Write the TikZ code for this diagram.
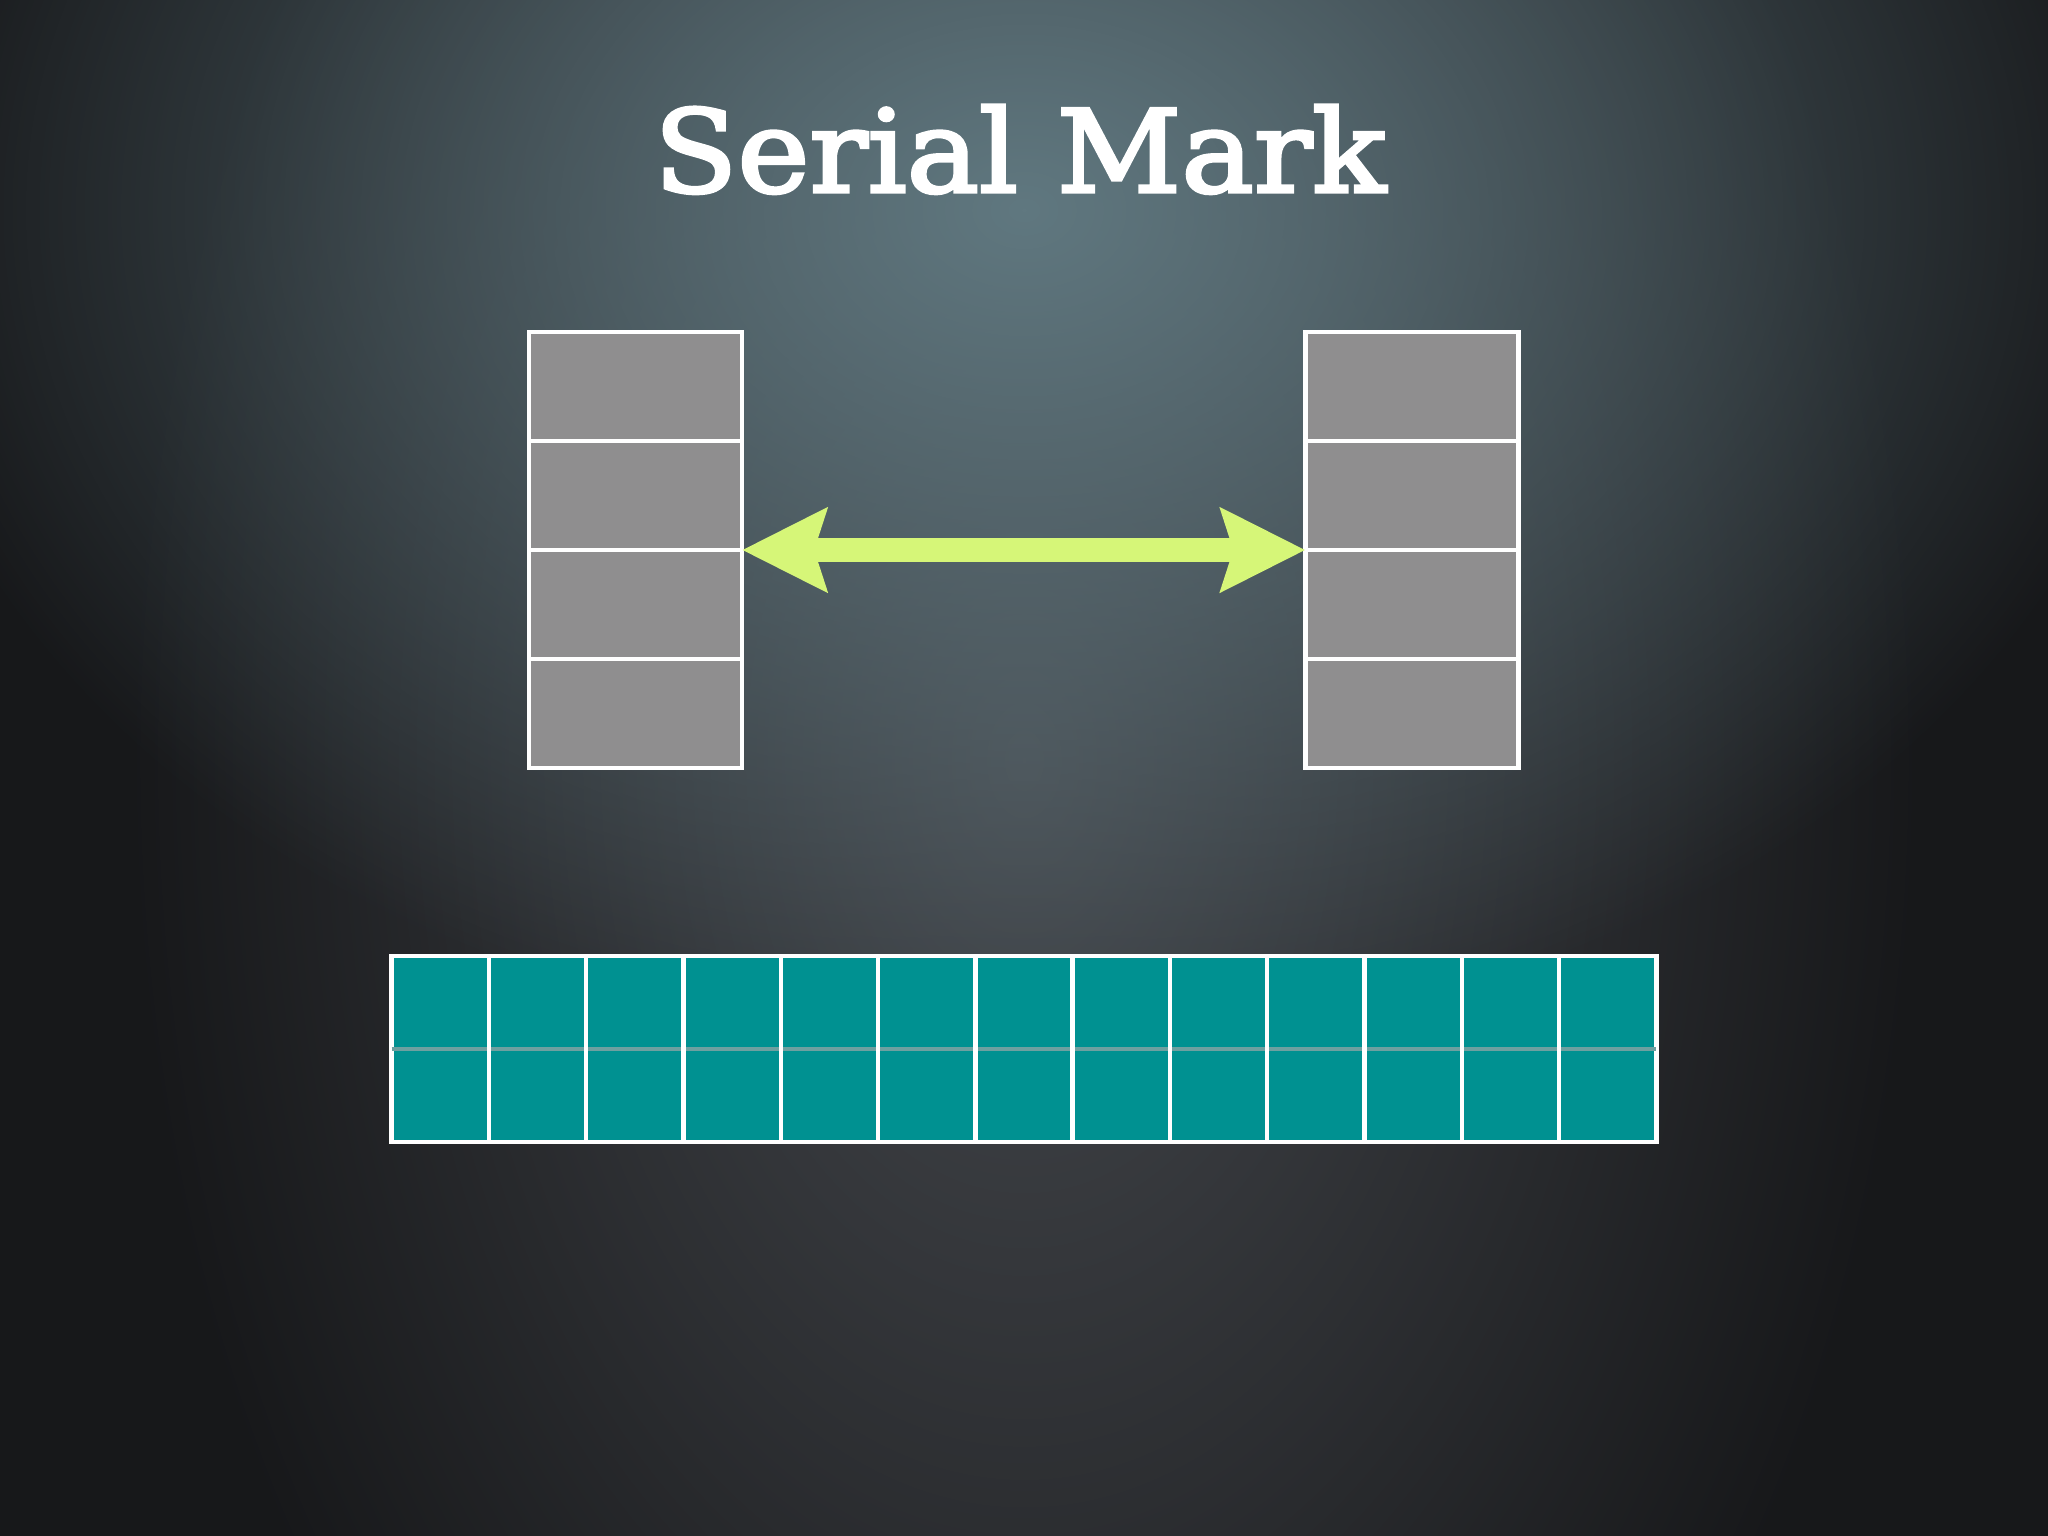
\documentclass[tikz,border=0pt]{standalone}
\usepackage{fontspec}
\newfontfamily\titlefont[FakeBold=3, FakeStretch=1.065]{DejaVu Serif}
\usepackage{tikz}
\usetikzlibrary{arrows.meta,fadings}

\definecolor{bgdark}{RGB}{23,24,26}
\definecolor{bgmid}{RGB}{70,73,78}
\definecolor{bgblue}{RGB}{96,120,128}
\definecolor{slotgray}{RGB}{143,142,143}
\definecolor{bandteal}{RGB}{0,145,145}
\definecolor{bandline}{RGB}{110,160,160}
\definecolor{lime}{RGB}{214,246,120}

\tikzfading[name=glow, inner color=transparent!0, outer color=transparent!100]

\tikzset{
  stack/.style={draw=white, line width=0.045cm, fill=slotgray, inner sep=0pt, outer sep=0pt,
    minimum width=2.13cm, minimum height=4.36cm},
  band/.style={draw=white, line width=0.045cm, fill=bandteal, inner sep=0pt, outer sep=0pt,
    minimum width=12.64cm, minimum height=1.86cm},
  divider/.style={white, line width=0.045cm},
  link/.style={lime, line width=0.24cm,
    {Stealth[length=0.84cm, width=0.82cm, inset=0.12cm]}-{Stealth[length=0.84cm, width=0.82cm, inset=0.12cm]}}
}

\begin{document}
\begin{tikzpicture}[x=0.01cm, y=-0.01cm]
\useasboundingbox (0,0) rectangle (2048,1536);
\clip (0,0) rectangle (2048,1536);
% backdrop
\fill[bgdark] (0,0) rectangle (2048,1536);
\fill[bgmid, path fading=glow] (1024,760) ellipse (900 and 1400);
\fill[bgblue, path fading=glow] (1024,210) ellipse (1150 and 850);

\node[white, anchor=base, font=\titlefont\fontsize{32.5}{40}\selectfont] (title) at (1020,192) {Serial Mark};

% the two stacks
\node[stack] (left) at (635.5,550) {};
\node[stack] (right) at (1412,550) {};
\foreach \k in {1,2,3} {
  \draw[divider] ([yshift=-\k*1.09cm]left.north west) -- ([yshift=-\k*1.09cm]left.north east);
  \draw[divider] ([yshift=-\k*1.09cm]right.north west) -- ([yshift=-\k*1.09cm]right.north east);
}
\draw[link] (left.east) -- (right.west);

% the band
\node[band] (strip) at (1024,1049) {};
\draw[bandline, line width=0.035cm] (strip.west) -- (strip.east);
\foreach \k in {1,...,12}
  \draw[divider] ([xshift=\k*0.9723cm]strip.north west) -- ([xshift=\k*0.9723cm]strip.south west);
\end{tikzpicture}
\end{document}
